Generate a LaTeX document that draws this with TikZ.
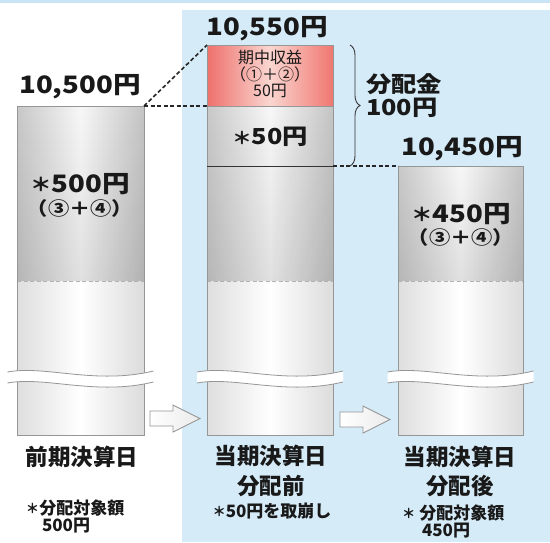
\documentclass[tikz,border=0pt]{standalone}
\usepackage{fontspec}
\setmainfont{Noto Sans CJK JP}
\newfontfamily\jpw[FakeStretch=1.15]{Noto Sans CJK JP}
\usetikzlibrary{fadings,decorations.pathreplacing}
\definecolor{panelblue}{RGB}{213,235,248}
\definecolor{topline}{RGB}{200,228,245}
\definecolor{colline}{RGB}{150,150,150}
\definecolor{txt}{RGB}{25,25,25}
\definecolor{grayL}{RGB}{200,200,200}
\definecolor{grayR}{RGB}{196,196,196}
\definecolor{lowL}{RGB}{222,222,222}
\definecolor{lowR}{RGB}{220,220,220}
\definecolor{redL}{RGB}{238,112,108}
\definecolor{redM}{RGB}{250,214,208}
\definecolor{redR}{RGB}{240,118,112}
\newcommand\myast{\raisebox{0.5pt}{\scalebox{0.78}{＊}}}
\begin{document}
\begin{tikzpicture}[x=1pt,y=-1pt,
  every node/.style={inner sep=0pt,outer sep=0pt,text=txt},
  bignum/.style={font=\jpw\bfseries\fontsize{24}{26}\selectfont},
  midnum/.style={font=\jpw\bfseries\fontsize{22}{24}\selectfont},
  paren/.style={font=\jpw\bfseries\fontsize{18.5}{20}\selectfont},
  smalltxt/.style={font=\fontsize{16}{16.5}\selectfont},
  daylabel/.style={font=\bfseries\fontsize{22.5}{24}\selectfont},
  notetxt/.style={font=\bfseries\fontsize{17}{18}\selectfont},
  colborder/.style={draw=colline,line width=0.8pt},
  connector/.style={draw=black!85,line width=1.6pt,dash pattern=on 4pt off 2.5pt},
  innerdash/.style={draw=black!30,line width=0.8pt,dash pattern=on 4pt off 2.5pt},
  wavefill/.style={fill=white},
  waveline/.style={draw=colline,line width=0.8pt},
  arrowbox/.style={draw=colline,line width=0.9pt,left color=white,right color=black!8}
]
\useasboundingbox (0,0) rectangle (550,542);
\fill[white] (0,0) rectangle (550,542);
\fill[panelblue] (182,10) rectangle (550,542);
\fill[topline] (0,0) rectangle (550,2.5);

% ---------- column helper ----------
\newcommand\graypart[4]{% x1 x2 ytop ybot
  \shade[left color=grayL,right color=grayR,middle color=white!97!black] (#1,#3) rectangle (#2,#4);
  \fill[black,opacity=0.09,path fading=north] (#1,#3) rectangle (#2,#4);}
\newcommand\lowpart[4]{%
  \shade[left color=lowL,right color=lowR,middle color=white] (#1,#3) rectangle (#2,#4);}
\newcommand\wavebreak[2]{% xcenter ytop
  \begin{scope}[shift={(#1,#2)}]
    \fill[wavefill] (-73,0) .. controls (-35,-7) and (15,13) .. (73,-1)
      -- (73,10) .. controls (15,24) and (-35,4) .. (-73,11) -- cycle;
    \draw[waveline] (-73,0) .. controls (-35,-7) and (15,13) .. (73,-1);
    \draw[waveline] (-73,11) .. controls (-35,4) and (15,24) .. (73,10);
  \end{scope}}

% ---------- left column ----------
\graypart{17}{144}{106}{281}
\lowpart{17}{144}{281}{435}
\draw[innerdash] (17,281) -- (144,281);
\draw[colborder] (17,106) rectangle (144,435);
\wavebreak{80.5}{372}

% ---------- middle column ----------
\shade[left color=redL,right color=redR,middle color=redM] (207,45) rectangle (333,106);
\graypart{207}{333}{106}{281}
\lowpart{207}{333}{281}{435}
\draw[innerdash] (207,281) -- (333,281);
\draw[colborder] (207,45) rectangle (333,435);
\draw[colline,line width=0.8pt] (207,106) -- (333,106);
\draw[black!80,line width=1pt] (207,166) -- (333,166);
\wavebreak{270}{372}

% ---------- right column ----------
\graypart{398}{523}{166}{281}
\lowpart{398}{523}{281}{435}
\draw[innerdash] (398,281) -- (523,281);
\draw[colborder] (398,166) rectangle (523,435);
\wavebreak{460.5}{372}

% ---------- named corner coordinates ----------
\coordinate (Ltr) at (144,106);
\coordinate (Mtl) at (207,45);
\coordinate (Mml) at (207,106);
\coordinate (Mbr) at (333,166);
\coordinate (Rtl) at (398,166);
\coordinate (braceTop) at (350,45);
\coordinate (braceBot) at (350,166);

\draw[connector] (Ltr) -- (Mtl);
\draw[connector] (Ltr) -- (Mml);
\draw[connector] (Mbr) -- (Rtl);
\draw[black!80,line width=0.9pt,decorate,decoration={brace,amplitude=10pt}] (braceTop) -- (braceBot);

% ---------- arrows ----------
\path[arrowbox] (150,411) -- (173,411) -- (173,405) -- (200,418.5) -- (173,432) -- (173,426) -- (150,426) -- cycle;
\path[arrowbox] (340,412) -- (363,412) -- (363,406) -- (390,419.5) -- (363,433) -- (363,427) -- (340,427) -- cycle;

% ---------- texts ----------
\node[bignum] (t10500) at (80,87) {10,500円};
\node[bignum] (t10550) at (267,29) {10,550円};
\node[bignum] (t10450) at (462,149) {10,450円};

\node[smalltxt,align=center] (tkichu) at (270,74) {期中収益\\（①＋②）\\50円};
\node[midnum] (t50) at (270,137) {\myast 50円};

\node[bignum] (t500) at (80,184) {\myast 500円};
\node[paren] (tp1) at (80,208) {（③＋④）};
\node[bignum] (t450) at (461,214) {\myast 450円};
\node[paren] (tp2) at (461,237) {（③＋④）};

\node[font=\jpw\bfseries\fontsize{22}{23}\selectfont,align=left,anchor=west] (tbunpai) at (366,96) {分配金\\100円};

\node[daylabel] (d1) at (82,457) {前期決算日};
\node[notetxt,anchor=west] (n1a) at (26,508) {\myast 分配対象額};
\node[notetxt,anchor=west] (n1b) at (42,526) {500円};

\node[daylabel] (d2) at (271,456) {当期決算日};
\node[daylabel] (d2b) at (271,486) {分配前};
\node[notetxt] (n2) at (272,511) {\myast 50円を取崩し};

\node[daylabel] (d3) at (460,457) {当期決算日};
\node[daylabel] (d3b) at (460,486) {分配後};
\node[notetxt,anchor=west] (n3a) at (402,513) {\myast\hspace{4pt}分配対象額};
\node[notetxt,anchor=west] (n3b) at (422,531) {450円};
\end{tikzpicture}
\end{document}
